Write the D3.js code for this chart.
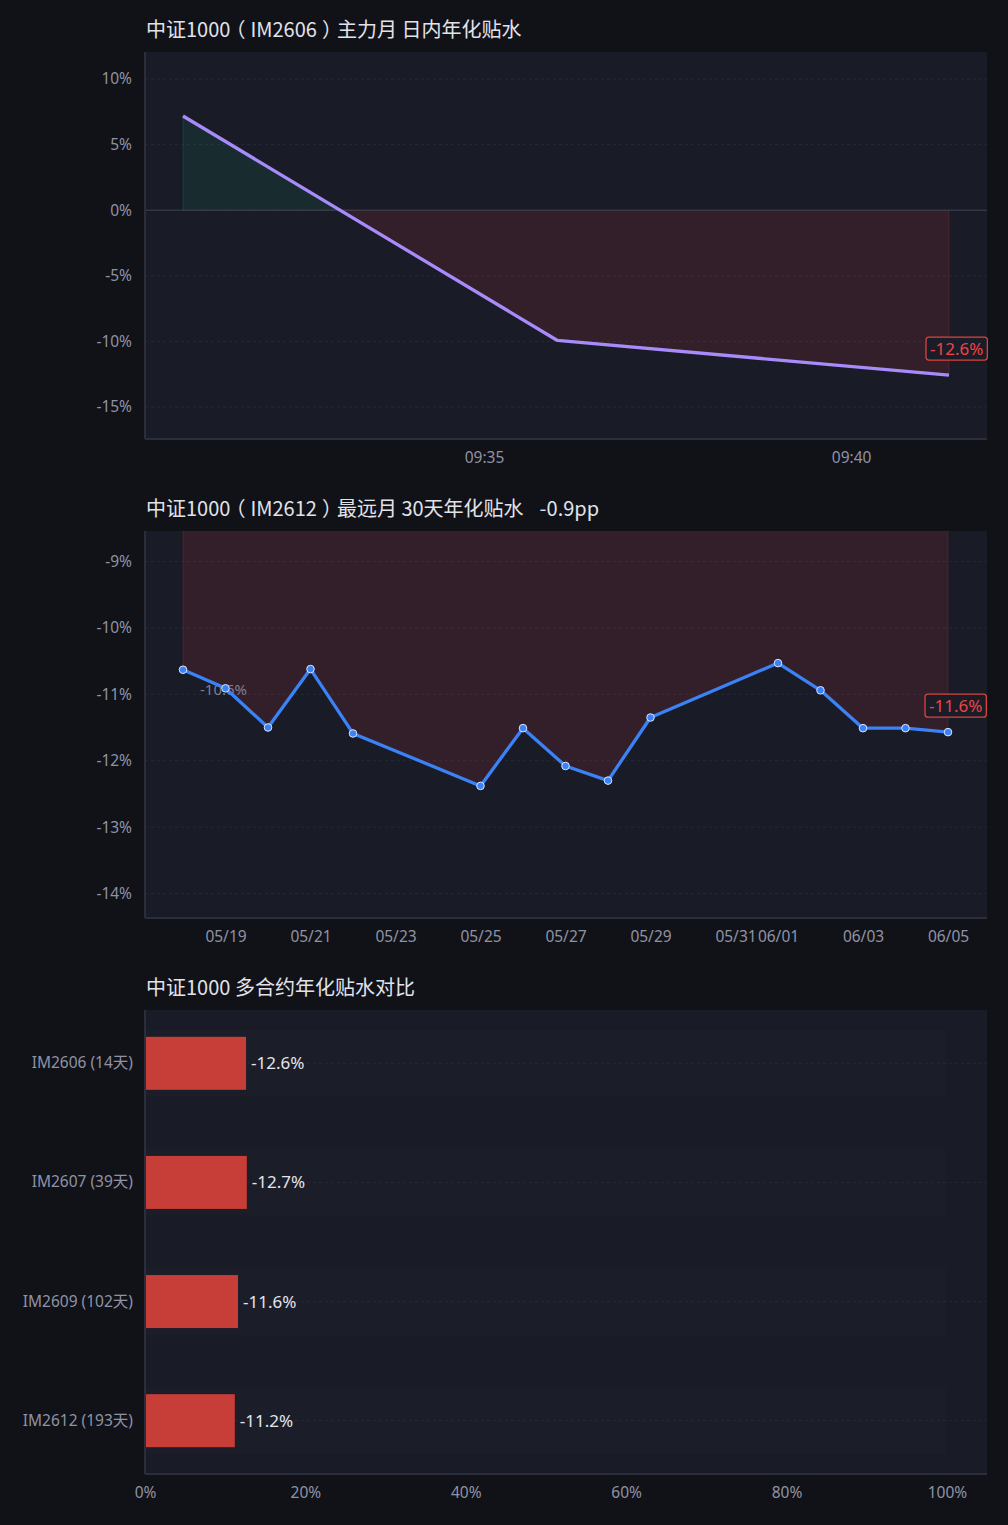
<!DOCTYPE html>
<html>
<head>
<meta charset="utf-8">
<script src="https://d3js.org/d3.v7.min.js"></script>
<style>
    body {
        margin: 0;
        background: #111218;
        font-family: "Noto Sans", "Noto Sans CJK SC", sans-serif;
    }
    .title { fill: #e2e3ea; font-size: 20px; font-family: "Noto Sans CJK SC", sans-serif; }
    .title .bracket { font-feature-settings: "halt" 1; }
    .tick text { fill: #8f92a5; font-size: 15.5px; font-family: "Noto Sans", "Noto Sans CJK SC", sans-serif; }
    .grid line { stroke: #262938; stroke-dasharray: 3,3; }
</style>
</head>
<body>
<div id="chart"></div>
<script>
    // panel 1: intraday basis of the main contract
    const introTimes = ["09:30:54", "09:36:00", "09:41:20"];
    const introValues = [7.18, -9.93, -12.57];
    const introTicks = [-15, -10, -5, 0, 5, 10];
    const introDomain = [-17.44, 12.06];

    // panel 2: far contract, last 30 days
    const farDates = ["2026-05-18", "2026-05-19", "2026-05-20", "2026-05-21", "2026-05-22",
        "2026-05-25", "2026-05-26", "2026-05-27", "2026-05-28", "2026-05-29",
        "2026-06-01", "2026-06-02", "2026-06-03", "2026-06-04", "2026-06-05"];
    const farValues = [-10.63, -10.91, -11.50, -10.62, -11.59,
        -12.38, -11.51, -12.08, -12.30, -11.35,
        -10.53, -10.94, -11.51, -11.51, -11.57];
    const farTicks = [-14, -13, -12, -11, -10, -9];
    const farDomain = [-14.37, -8.54];

    // panel 3: all contracts
    const contracts = ["IM2606", "IM2607", "IM2609", "IM2612"];
    const daysLeft = [14, 39, 102, 193];
    const basisValues = [-12.6, -12.7, -11.6, -11.2];
    const barTicks = [0, 20, 40, 60, 80, 100];

    const width = 1008, height = 1525;
    const left = 145, right = 987, pad = 38;
    const red = "#ef4444";

    const svg = d3.select("#chart").append("svg")
        .attr("width", width)
        .attr("height", height);

    // full-width brackets: half-width glyph with even space on both sides
    function writeTitle(t, str) {
        let after = 0;
        str.split(/([（）])/).filter(s => s.length).forEach(s => {
            const isBracket = s === "（" || s === "）";
            const span = t.append("tspan").text(s);
            if (isBracket) {
                span.attr("class", "bracket").attr("dx", 5);
                after = 5;
            } else {
                span.attr("dx", after);
                after = 0;
            }
        });
    }

    function panel(top, bottom, title, id) {
        const t = svg.append("text").attr("class", "title")
            .attr("x", left + 1).attr("y", top - 15);
        writeTitle(t, title);
        svg.append("rect")
            .attr("x", left).attr("y", top)
            .attr("width", right - left).attr("height", bottom - top)
            .attr("fill", "#191b27");
        svg.append("clipPath").attr("id", id)
            .append("rect")
            .attr("x", left).attr("y", top)
            .attr("width", right - left).attr("height", bottom - top);
        return t;
    }

    function borders(top, bottom) {
        svg.append("line").attr("x1", left).attr("x2", left).attr("y1", top).attr("y2", bottom)
            .attr("stroke", "#2a2d3b").attr("stroke-width", 2);
        svg.append("line").attr("x1", left).attr("x2", right).attr("y1", bottom).attr("y2", bottom)
            .attr("stroke", "#2a2d3b").attr("stroke-width", 2);
    }

    function yAxis(y, ticks) {
        svg.append("g").attr("class", "grid")
            .selectAll("line").data(ticks).enter().append("line")
            .attr("x1", left).attr("x2", right)
            .attr("y1", d => y(d)).attr("y2", d => y(d));
        svg.append("g")
            .attr("transform", "translate(" + left + ",0)")
            .call(d3.axisLeft(y).tickValues(ticks).tickSize(0).tickPadding(13).tickFormat(d => d + "%"))
            .call(g => g.select(".domain").remove());
    }

    function endLabel(x, y, value) {
        const txt = value.toFixed(1) + "%";
        const g = svg.append("g");
        const t = g.append("text")
            .attr("x", x - 19).attr("y", y)
            .attr("fill", red)
            .style("font-size", "17px")
            .text(txt);
        const bb = t.node().getBBox();
        g.insert("rect", "text")
            .attr("x", bb.x - 4).attr("y", bb.y)
            .attr("width", bb.width + 8).attr("height", bb.height)
            .attr("rx", 3)
            .attr("fill", "#1a1c28")
            .attr("stroke", "#d9443b")
            .attr("stroke-width", 1.3);
    }

    // ---------- panel 1 ----------
    {
        const top = 52, bottom = 439;
        panel(top, bottom, "中证1000（IM2606）主力月 日内年化贴水", "clip1");
        const parseT = d3.timeParse("%H:%M:%S");
        const data = introTimes.map((t, i) => ({ t: parseT(t), v: introValues[i] }));

        const x = d3.scaleTime().domain(d3.extent(data, d => d.t)).range([left + pad, right - pad]);
        const y = d3.scaleLinear().domain(introDomain).range([bottom, top]);

        yAxis(y, introTicks);

        svg.append("clipPath").attr("id", "above0").append("rect")
            .attr("x", left).attr("y", top).attr("width", right - left).attr("height", y(0) - top);
        svg.append("clipPath").attr("id", "below0").append("rect")
            .attr("x", left).attr("y", y(0)).attr("width", right - left).attr("height", bottom - y(0));

        const area = d3.area().x(d => x(d.t)).y0(y(0)).y1(d => y(d.v));
        svg.append("path").datum(data).attr("d", area)
            .attr("clip-path", "url(#above0)")
            .attr("fill", "rgba(16,185,129,0.11)")
            .attr("stroke", "rgba(16,185,129,0.18)");
        svg.append("path").datum(data).attr("d", area)
            .attr("clip-path", "url(#below0)")
            .attr("fill", "rgba(239,68,68,0.12)")
            .attr("stroke", "rgba(239,68,68,0.18)");

        svg.append("line").attr("x1", left).attr("x2", right)
            .attr("y1", y(0)).attr("y2", y(0))
            .attr("stroke", "#3d4150").attr("stroke-width", 1);

        svg.append("path").datum(data)
            .attr("d", d3.line().x(d => x(d.t)).y(d => y(d.v)))
            .attr("fill", "none").attr("stroke", "#a78bfa").attr("stroke-width", 3.3)
            .attr("stroke-linejoin", "round");

        borders(top, bottom);
        svg.append("g")
            .attr("transform", "translate(0," + bottom + ")")
            .call(d3.axisBottom(x).ticks(d3.timeMinute.every(5)).tickSize(0).tickPadding(13)
                .tickFormat(d3.timeFormat("%H:%M")))
            .call(g => g.select(".domain").remove());

        const last = data[data.length - 1];
        endLabel(x(last.t), y(last.v) - 20, last.v);
    }

    // ---------- panel 2 ----------
    {
        const top = 531, bottom = 918;
        const diff = farValues[farValues.length - 1] - farValues[0];
        const tt = panel(top, bottom, "中证1000（IM2612）最远月 30天年化贴水", "clip2");
        tt.append("tspan").attr("dx", 16).text((diff < 0 ? "" : "+") + diff.toFixed(1) + "pp");

        const parseD = d3.timeParse("%Y-%m-%d");
        const data = farDates.map((d, i) => ({ t: parseD(d), v: farValues[i] }));

        const x = d3.scaleTime().domain(d3.extent(data, d => d.t)).range([left + pad, right - pad - 1]);
        const y = d3.scaleLinear().domain(farDomain).range([bottom, top]);

        yAxis(y, farTicks);

        svg.append("path").datum(data)
            .attr("d", d3.area().x(d => x(d.t)).y0(y(0)).y1(d => y(d.v)))
            .attr("clip-path", "url(#clip2)")
            .attr("fill", "rgba(239,68,68,0.12)")
            .attr("stroke", "rgba(239,68,68,0.18)");

        svg.append("text")
            .attr("x", x(data[0].t) + 17).attr("y", y(data[0].v) + 25)
            .attr("fill", "#8d90a3").attr("opacity", 0.85)
            .style("font-size", "15px")
            .text(data[0].v.toFixed(1) + "%");

        svg.append("path").datum(data)
            .attr("d", d3.line().x(d => x(d.t)).y(d => y(d.v)))
            .attr("fill", "none").attr("stroke", "#3b82f6").attr("stroke-width", 3.3)
            .attr("stroke-linejoin", "round");

        svg.append("g").selectAll("circle").data(data).enter().append("circle")
            .attr("cx", d => x(d.t)).attr("cy", d => y(d.v))
            .attr("r", 3.8)
            .attr("fill", "#3b82f6")
            .attr("stroke", "#dbe6ff").attr("stroke-width", 1);

        borders(top, bottom);
        svg.append("g")
            .attr("transform", "translate(0," + bottom + ")")
            .call(d3.axisBottom(x).ticks(d3.timeDay.every(2)).tickSize(0).tickPadding(13)
                .tickFormat(d3.timeFormat("%m/%d")))
            .call(g => g.select(".domain").remove());

        const last = data[data.length - 1];
        endLabel(x(last.t), y(last.v) - 20, last.v);
    }

    // ---------- panel 3 ----------
    {
        const top = 1010, bottom = 1474;
        panel(top, bottom, "中证1000 多合约年化贴水对比", "clip3");
        const data = contracts.map((c, i) => ({
            name: c + " (" + daysLeft[i] + "天)",
            v: basisValues[i]
        }));

        const x = d3.scaleLinear().domain([0, 105]).range([left, right]);
        const y = d3.scaleBand().domain(data.map(d => d.name)).range([top, bottom])
            .paddingInner(0.555).paddingOuter(0.225);

        svg.append("g").selectAll("rect").data(data).enter().append("rect")
            .attr("x", x(0)).attr("y", d => y(d.name) - 7)
            .attr("width", x(100) - x(0)).attr("height", y.bandwidth() + 14)
            .attr("fill", "rgba(255,255,255,0.013)");

        svg.append("g").attr("class", "grid")
            .selectAll("line").data(data).enter().append("line")
            .attr("x1", left).attr("x2", right)
            .attr("y1", d => y(d.name) + y.bandwidth() / 2)
            .attr("y2", d => y(d.name) + y.bandwidth() / 2);

        svg.append("g").selectAll("rect").data(data).enter().append("rect")
            .attr("x", x(0)).attr("y", d => y(d.name))
            .attr("width", d => x(Math.abs(d.v)) - x(0))
            .attr("height", y.bandwidth())
            .attr("fill", "#c63e37");

        svg.append("g").selectAll("text").data(data).enter().append("text")
            .attr("x", d => x(Math.abs(d.v)) + 5)
            .attr("y", d => y(d.name) + y.bandwidth() / 2)
            .attr("dy", "0.35em")
            .attr("fill", "#e4e5ec")
            .style("font-size", "17px")
            .text(d => d.v.toFixed(1) + "%");

        svg.append("g")
            .attr("transform", "translate(" + left + ",0)")
            .call(d3.axisLeft(y).tickSize(0).tickPadding(12))
            .call(g => g.select(".domain").remove());

        borders(top, bottom);
        svg.append("g")
            .attr("transform", "translate(0," + bottom + ")")
            .call(d3.axisBottom(x).tickValues(barTicks).tickSize(0).tickPadding(13)
                .tickFormat(d => d + "%"))
            .call(g => g.select(".domain").remove());
    }
</script>
</body>
</html>
